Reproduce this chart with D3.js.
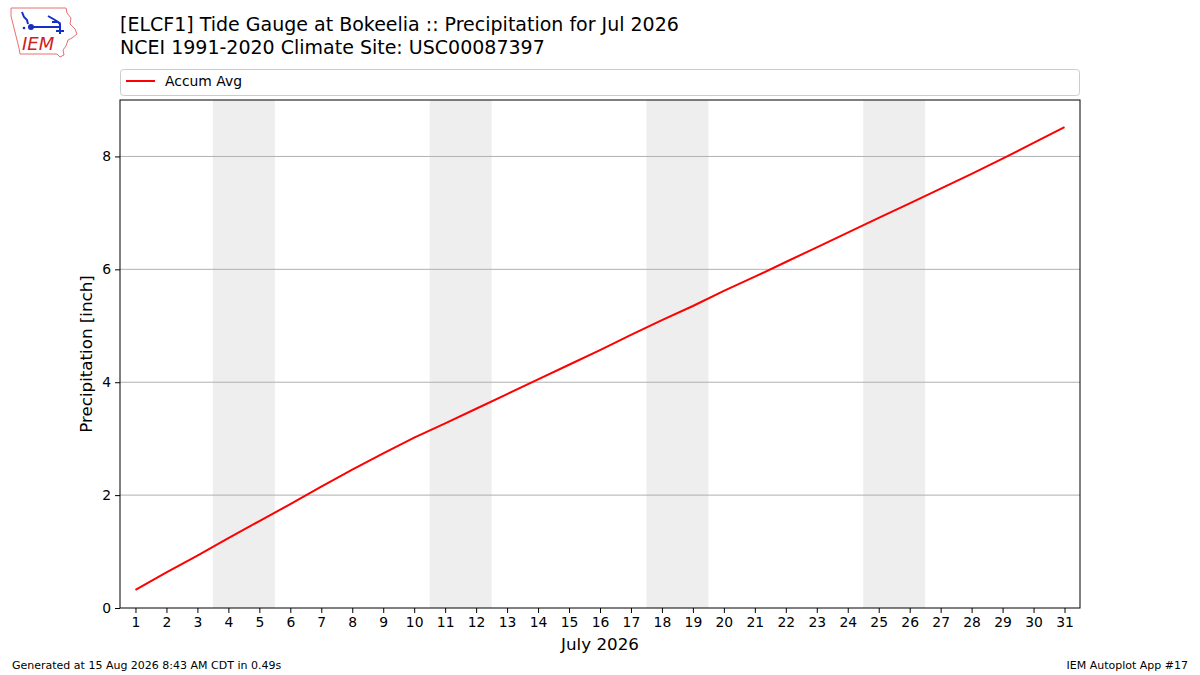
<!DOCTYPE html>
<html>
<head>
<meta charset="utf-8">
<script src="https://cdn.jsdelivr.net/npm/d3@7"></script>
<style>
body{margin:0;background:#fff;}
text{font-family:"DejaVu Sans",sans-serif;}
</style>
</head>
<body>
<div id="chart"></div>
<script>
// days of the month and accumulated average precipitation (inch)
var days=d3.range(1,32);
var accumAvg=[0.32,0.63,0.93,1.24,1.54,1.84,2.15,2.45,2.74,3.02,
              3.27,3.53,3.79,4.05,4.31,4.57,4.84,5.10,5.35,5.62,
              5.87,6.13,6.39,6.65,6.91,7.17,7.43,7.69,7.96,8.24,8.52];
// weekend spans (Sat, Sun)
var weekends=[[4,5],[11,12],[18,19],[25,26]];
var yTicks=[0,2,4,6,8];

var width=1200,height=675;
var margin={left:120,right:120,top:100,bottom:67};

var svg=d3.select("#chart").append("svg")
          .attr("width",width)
          .attr("height",height);

var x=d3.scaleLinear().domain([0.5,31.5]).range([margin.left,width-margin.right]);
var y=d3.scaleLinear().domain([0,9]).range([height-margin.bottom,margin.top]);

// weekend shading
svg.selectAll("rect.wk")
   .data(weekends)
   .enter()
   .append("rect")
   .attr("class","wk")
   .attr("x",function(d){return x(d[0]-0.5);})
   .attr("y",y(9))
   .attr("width",function(d){return x(d[1]+0.5)-x(d[0]-0.5);})
   .attr("height",y(0)-y(9))
   .attr("fill","#eeeeee");

// grid
svg.selectAll("line.grid")
   .data(yTicks.filter(function(d){return d>0;}))
   .enter()
   .append("line")
   .attr("class","grid")
   .attr("x1",x(0.5)).attr("x2",x(31.5))
   .attr("y1",function(d){return y(d);})
   .attr("y2",function(d){return y(d);})
   .attr("stroke","#b0b0b0")
   .attr("stroke-width",1);

// line
var line=d3.line()
           .x(function(d,i){return x(days[i]);})
           .y(function(d){return y(d);});
svg.append("path")
   .datum(accumAvg)
   .attr("d",line)
   .attr("fill","none")
   .attr("stroke","red")
   .attr("stroke-width",2);

// axes
var xAxis=svg.append("g")
   .attr("transform","translate(0,"+y(0)+")")
   .call(d3.axisBottom(x).tickValues(days).tickFormat(d3.format("d")).tickSizeOuter(0).tickSize(5).tickPadding(4));
var yAxis=svg.append("g")
   .attr("transform","translate("+x(0.5)+",0)")
   .call(d3.axisLeft(y).tickValues(yTicks).tickSizeOuter(0).tickSize(5).tickPadding(4));
[xAxis,yAxis].forEach(function(a){
  a.selectAll("text").attr("font-size",13.9).attr("fill","#000")
   .attr("font-family","DejaVu Sans");
  a.selectAll("line").attr("stroke","#000");
  a.select(".domain").remove();
});

// frame
svg.append("rect")
   .attr("x",x(0.5)).attr("y",y(9))
   .attr("width",x(31.5)-x(0.5))
   .attr("height",y(0)-y(9))
   .attr("fill","none")
   .attr("stroke","#000")
   .attr("stroke-width",1);

// axis labels
svg.append("text")
   .text("July 2026")
   .attr("x",(x(0.5)+x(31.5))/2)
   .attr("y",650)
   .attr("text-anchor","middle")
   .attr("font-size",16.7);
svg.append("text")
   .text("Precipitation [inch]")
   .attr("transform","translate(92,"+(y(0)+y(9))/2+") rotate(-90)")
   .attr("text-anchor","middle")
   .attr("font-size",16.7);

// legend
svg.append("rect")
   .attr("x",120.5).attr("y",69.5)
   .attr("width",959).attr("height",26)
   .attr("rx",3)
   .attr("fill","#fff")
   .attr("stroke","#cccccc");
svg.append("line")
   .attr("x1",126).attr("x2",155)
   .attr("y1",81).attr("y2",81)
   .attr("stroke","red").attr("stroke-width",2);
svg.append("text")
   .text("Accum Avg")
   .attr("x",165).attr("y",86)
   .attr("font-size",13.9);

// titles
svg.append("text")
   .text("[ELCF1] Tide Gauge at Bokeelia :: Precipitation for Jul 2026")
   .attr("x",120).attr("y",31)
   .attr("font-size",19);
svg.append("text")
   .text("NCEI 1991-2020 Climate Site: USC00087397")
   .attr("x",120).attr("y",54)
   .attr("font-size",19);

// footer
svg.append("text")
   .text("Generated at 15 Aug 2026 8:43 AM CDT in 0.49s")
   .attr("x",12).attr("y",669)
   .attr("font-size",11);
svg.append("text")
   .text("IEM Autoplot App #17")
   .attr("x",1188).attr("y",669)
   .attr("text-anchor","end")
   .attr("font-size",11);

// logo
var logo=svg.append("g");
logo.append("path")
    .attr("d","M11,8 L66,8 L67,13 L71,18 L70,24 L75,29 L77,34 L72,38 L68,40 L66,46 L63,50 L64,55 L60,57 L57,54 L20,54 L19,48 L17,40 L15,32 L13,24 L11,16 Z")
    .attr("fill","none").attr("stroke","#e87070").attr("stroke-width",1);
logo.append("path")
    .attr("d","M22,12 L24,17 L27,20 L28,24 M31,27 L60,27 M48,16 L55,20 L58,22 L52,22 M58,22 L60,24 L60,34 M56,31 L64,31")
    .attr("fill","none").attr("stroke","#1530c8").attr("stroke-width",2);
logo.append("circle").attr("cx",31).attr("cy",27).attr("r",3).attr("fill","#1530c8");
logo.append("circle").attr("cx",24).attr("cy",28).attr("r",1.3).attr("fill","#1530c8");
logo.append("text")
    .text("IEM")
    .attr("x",22).attr("y",50)
    .attr("font-family","Liberation Serif")
    .attr("font-style","italic")
    .attr("font-size",18)
    .attr("fill","#d02020");
</script>
</body>
</html>
